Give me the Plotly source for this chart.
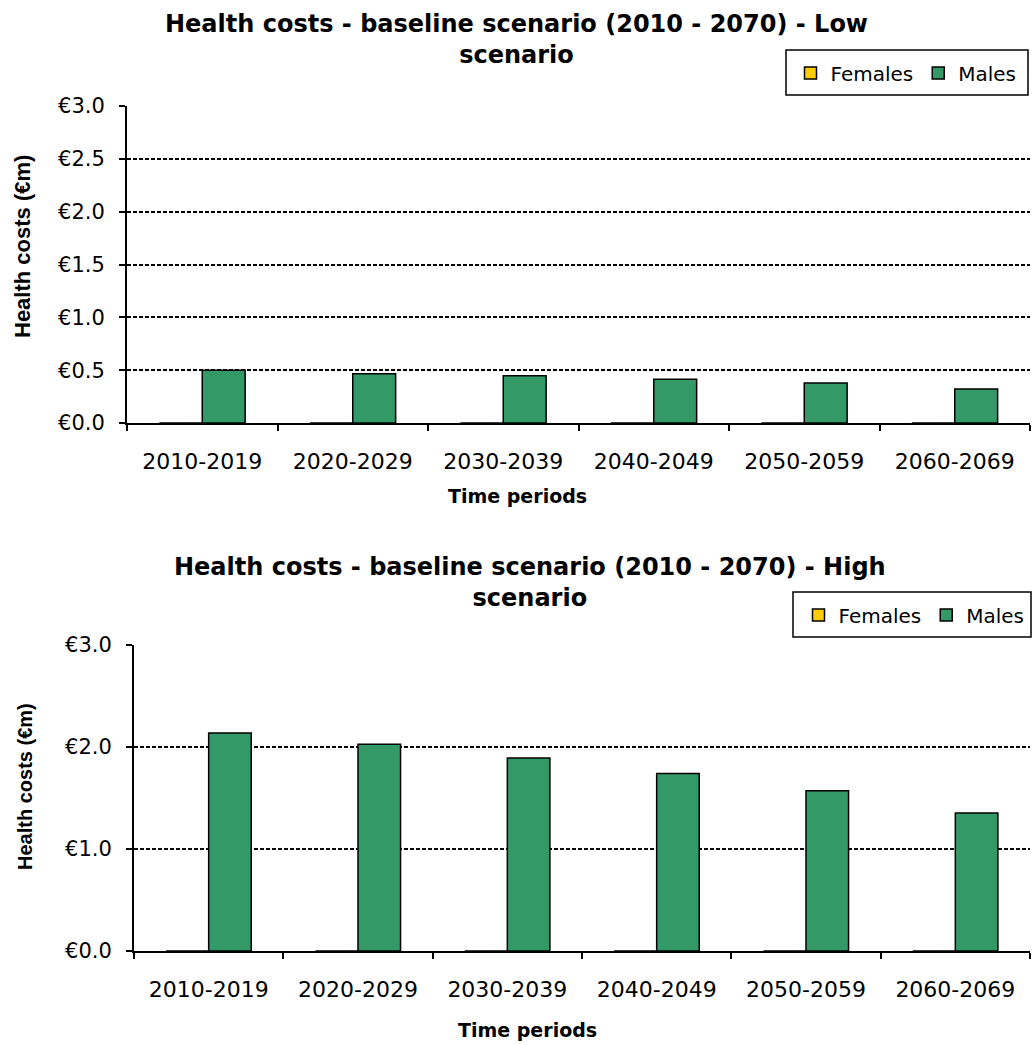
import plotly.graph_objects as go

# Time periods on the category axis
periods = ["2010-2019", "2020-2029", "2030-2039", "2040-2049", "2050-2059", "2060-2069"]

# Health costs (€m) - low scenario
low_females = [0, 0, 0, 0, 0, 0]
low_males = [0.50, 0.466, 0.447, 0.413, 0.378, 0.321]

# Health costs (€m) - high scenario
high_females = [0, 0, 0, 0, 0, 0]
high_males = [2.138, 2.026, 1.892, 1.741, 1.570, 1.354]

FEMALE_COLOR = "#FFCC00"
MALE_COLOR = "#339966"
FONT = "DejaVu Sans, Verdana, sans-serif"
NARROW = "Liberation Sans, Arial, sans-serif"
W, H = 1033, 1045


def py(px):
    return 1 - px / H


def px_x(px):
    return px / W


fig = go.Figure()

panels = [
    ("x", "y", "legend", low_females, low_males),
    ("x2", "y2", "legend2", high_females, high_males),
]
for xa, ya, leg, fem, mal in panels:
    fig.add_trace(go.Bar(
        x=periods, y=fem, name="Females", xaxis=xa, yaxis=ya, legend=leg,
        marker=dict(color=FEMALE_COLOR, line=dict(color="black", width=1.5)),
    ))
    fig.add_trace(go.Bar(
        x=periods, y=mal, name="Males", xaxis=xa, yaxis=ya, legend=leg,
        marker=dict(color=MALE_COLOR, line=dict(color="black", width=1.5)),
    ))

xcommon = dict(
    type="category", showline=True, linecolor="black", linewidth=2,
    ticks="outside", tickson="boundaries", ticklen=6, tickwidth=2, tickcolor="black",
    tickfont=dict(family=FONT, size=22, color="black"), showgrid=False,
    ticklabelstandoff=18, automargin=False,
)
ycommon = dict(
    range=[0, 3], showline=True, linecolor="black", linewidth=2,
    ticks="outside", ticklen=6, tickwidth=2, tickcolor="black",
    tickprefix="€", tickformat=".1f",
    tickfont=dict(family=FONT, size=21, color="black"),
    showgrid=True, gridcolor="black", gridwidth=1.5, griddash="4px,2px",
    zeroline=False, ticklabelstandoff=10, automargin=False,
)

# Legends sit inside framed boxes drawn as shapes
legcommon = dict(
    orientation="h", xanchor="center", yanchor="middle",
    borderwidth=0, bgcolor="rgba(0,0,0,0)",
    font=dict(family=FONT, size=20, color="black"),
    itemwidth=30, traceorder="normal",
)
legend_boxes = [(786, 1028, 50, 95), (793, 1031, 592, 637)]

fig.update_layout(
    width=W, height=H,
    margin=dict(l=0, r=0, t=0, b=0, autoexpand=False),
    paper_bgcolor="white", plot_bgcolor="white",
    barmode="group", bargap=0.43, bargroupgap=0,
    font=dict(family=FONT, color="black"),
    xaxis=dict(xcommon, domain=[px_x(127), px_x(1030)], anchor="y"),
    yaxis=dict(ycommon, domain=[py(423), py(106)], dtick=0.5, anchor="x"),
    xaxis2=dict(xcommon, domain=[px_x(134), px_x(1030)], anchor="y2"),
    yaxis2=dict(ycommon, domain=[py(951), py(645)], dtick=1, anchor="x2"),
    legend=dict(legcommon, x=px_x(906), y=py(73)),
    legend2=dict(legcommon, x=px_x(914), y=py(615)),
    shapes=[
        dict(type="rect", xref="paper", yref="paper",
             x0=px_x(x0), x1=px_x(x1), y0=py(y1), y1=py(y0),
             line=dict(color="black", width=1.5), fillcolor="white", layer="below")
        for x0, x1, y0, y1 in legend_boxes
    ],
)

title_font = dict(family=FONT, size=24, color="black", weight="bold")
axis_font = dict(family=FONT, size=19, color="black", weight="bold")

annotations = [
    dict(text="Health costs - baseline scenario (2010 - 2070) - Low<br>scenario",
         x=px_x(516), y=py(8), xanchor="center", yanchor="top", font=title_font),
    dict(text="Health costs - baseline scenario (2010 - 2070) - High<br>scenario",
         x=px_x(530), y=py(551), xanchor="center", yanchor="top", font=title_font),
    dict(text="Time periods", x=px_x(517), y=py(496), xanchor="center",
         yanchor="middle", font=axis_font),
    dict(text="Time periods", x=px_x(527), y=py(1030), xanchor="center",
         yanchor="middle", font=axis_font),
    dict(text="Health costs (€m)", x=px_x(23), y=py(247), xanchor="center",
         yanchor="middle", textangle=-90,
         font=dict(family=NARROW, size=22, color="black", weight="bold")),
    dict(text="Health costs (€m)", x=px_x(25), y=py(787), xanchor="center",
         yanchor="middle", textangle=-90,
         font=dict(family=NARROW, size=20, color="black", weight="bold")),
]
for a in annotations:
    a.update(xref="paper", yref="paper", showarrow=False)
fig.update_layout(annotations=annotations)

fig.write_html("out.html")
